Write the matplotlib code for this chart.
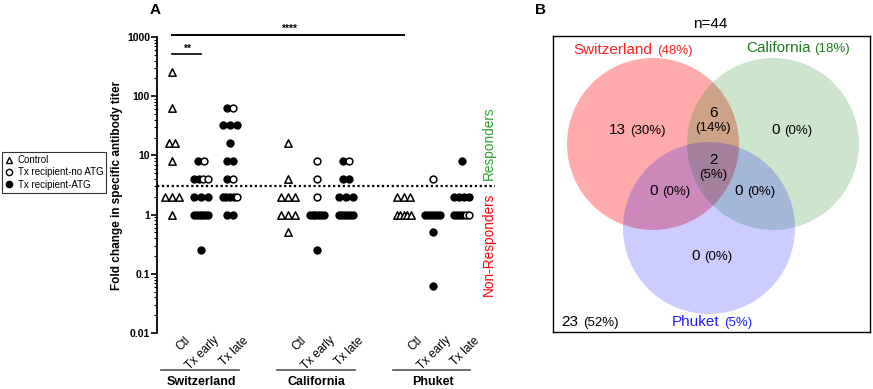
import numpy as np
import matplotlib.pyplot as plt
from matplotlib import transforms
from matplotlib.patches import Circle
from matplotlib.lines import Line2D
from matplotlib.ticker import LogLocator, NullFormatter
from matplotlib.offsetbox import TextArea, HPacker, VPacker, AnnotationBbox

plt.rcParams["font.family"] = ["Liberation Sans", "DejaVu Sans"]

# ---- panel A data: fold change in titer per column ----
col_labels = ["Ctl", "Tx early", "Tx late"] * 3
col_pos = [0, 1, 2, 4, 5, 6, 8, 9, 10]
sites = ["Switzerland", "California", "Phuket"]

ctl_sw = [256, 64, 16, 16, 8, 2, 2, 2, 1]
ctl_ca = [16, 4, 2, 2, 2, 1, 1, 1, 0.5]
ctl_ph = [2, 2, 2, 1, 1, 1, 1, 1]

atg_sw_early = [8, 4, 4, 2, 2, 2, 1, 1, 1, 1, 1, 1, 0.25]
noatg_sw_early = [8, 4, 4]
atg_sw_late = [64, 32, 32, 32, 16, 8, 8, 4, 2, 2, 2, 2, 1, 1]
noatg_sw_late = [64, 4, 2]
atg_ca_early = [1, 1, 1, 1, 1, 1, 0.25]
noatg_ca_early = [8, 4, 2]
atg_ca_late = [8, 4, 4, 2, 2, 2, 1, 1, 1, 1, 1, 1]
noatg_ca_late = [8]
atg_ph_early = [1, 1, 1, 1, 1, 1, 0.5, 0.0625]
noatg_ph_early = [4]
atg_ph_late = [8, 2, 2, 2, 2, 1, 1, 1, 1]
noatg_ph_late = [1, 1]

columns = [
    (ctl_sw, [], []), ([], noatg_sw_early, atg_sw_early), ([], noatg_sw_late, atg_sw_late),
    (ctl_ca, [], []), ([], noatg_ca_early, atg_ca_early), ([], noatg_ca_late, atg_ca_late),
    (ctl_ph, [], []), ([], noatg_ph_early, atg_ph_early), ([], noatg_ph_late, atg_ph_late),
]
threshold = 3

# ---- panel B data: Venn counts ----
n_total = 44
venn_counts = {"S": 13, "C": 0, "P": 0, "SC": 6, "SP": 0, "CP": 0, "SCP": 2, "none": 23}

fig = plt.figure(figsize=(8.73, 3.89), dpi=100)

# ================= panel A =================
ax = fig.add_axes([157 / 873, 56 / 389, 338 / 873, 296 / 389])
ax.set_yscale("log")
ax.set_ylim(0.01, 1000)
ax.set_xlim(-0.52, 11.15)

styles = {
    "atg": dict(marker="o", facecolor="black", edgecolor="black", s=24),
    "noatg": dict(marker="o", facecolor="white", edgecolor="black", s=24),
    "ctl": dict(marker="^", facecolor="white", edgecolor="black", s=28),
}
step, max_half = 0.23, 0.25
for x0, (ctl, noatg, atg) in zip(col_pos, columns):
    pts = [(v, "atg") for v in atg] + [(v, "noatg") for v in noatg] + [(v, "ctl") for v in ctl]
    for val in sorted(set(v for v, _ in pts), reverse=True):
        row = [k for v, k in pts if v == val]
        n = len(row)
        sp = step if n == 1 else min(step, 2 * max_half / (n - 1))
        offs = (np.arange(n) - (n - 1) / 2) * sp
        for off, kind in zip(offs, row):
            ax.scatter(x0 + off, val, linewidths=1.1, zorder=3, clip_on=False, **styles[kind])

ax.axhline(threshold, color="black", linestyle=(0, (1, 1.2)), linewidth=1.6, zorder=2)

for sp_name in ["top", "right", "bottom"]:
    ax.spines[sp_name].set_visible(False)
ax.spines["left"].set_linewidth(1.3)
ax.set_yticks([0.01, 0.1, 1, 10, 100, 1000], ["0.01", "0.1", "1", "10", "100", "1000"])
ax.yaxis.set_minor_locator(LogLocator(base=10, subs=np.arange(2, 10)))
ax.yaxis.set_minor_formatter(NullFormatter())
ax.tick_params(axis="y", which="major", length=4, width=1.2, labelsize=7.5, pad=1)
ax.tick_params(axis="y", which="minor", length=2, width=0.8)
for lbl in ax.get_yticklabels():
    lbl.set_fontweight("bold")
ax.set_ylabel("Fold change in specific antibody titer", fontsize=8.5, fontweight="bold", labelpad=3)

ax.set_xticks(col_pos)
ax.set_xticklabels(col_labels, rotation=45, ha="right", rotation_mode="anchor", fontsize=8.5)
ax.tick_params(axis="x", length=0, pad=1)
shift = transforms.ScaledTranslation(0.12, 0, fig.dpi_scale_trans)
for lbl in ax.get_xticklabels():
    lbl.set_transform(lbl.get_transform() + shift)

blend = transforms.blended_transform_factory(ax.transData, ax.transAxes)
for base, site in zip([0, 4, 8], sites):
    ax.add_line(Line2D([base - 0.38, base + 2.3], [-0.125, -0.125], color="#555555",
                       linewidth=1.2, transform=blend, clip_on=False))
    ax.text(base + 1, -0.165, site, transform=blend, ha="center", va="center",
            fontsize=9, fontweight="bold")

# significance bars
ax.plot([0, 1], [520, 520], color="black", linewidth=1.2, clip_on=False)
ax.text(0.5, 640, "**", ha="center", va="center", fontsize=7.5, fontweight="bold")
ax.plot([0, 8], [1100, 1100], color="black", linewidth=1.4, clip_on=False)
ax.text(4.05, 1380, "****", ha="center", va="center", fontsize=7.5, fontweight="bold")

ax.text(10.95, 16, "Responders", rotation=90, ha="center", va="center", color="#2ca02c", fontsize=9.8)
ax.text(10.95, 0.32, "Non-Responders", rotation=90, ha="center", va="center", color="#ff0000", fontsize=9.8)

handles = [
    Line2D([], [], marker="^", linestyle="none", markerfacecolor="white", markeredgecolor="black", markersize=4.8),
    Line2D([], [], marker="o", linestyle="none", markerfacecolor="white", markeredgecolor="black", markersize=4.5),
    Line2D([], [], marker="o", linestyle="none", markerfacecolor="black", markeredgecolor="black", markersize=4.5),
]
leg = fig.legend(handles, ["Control", "Tx recipient-no ATG", "Tx recipient-ATG"],
                 loc="upper left", bbox_to_anchor=(2 / 873, 1 - 152 / 389), fontsize=7,
                 frameon=True, fancybox=False, edgecolor="black", borderaxespad=0,
                 handlelength=0.8, handletextpad=0.5, borderpad=0.3, labelspacing=0.25)
leg.get_frame().set_linewidth(0.8)

fig.text(150 / 873, 1 - 10 / 389, "A", fontsize=11, fontweight="bold", ha="left", va="center")
fig.text(535 / 873, 1 - 10 / 389, "B", fontsize=11, fontweight="bold", ha="left", va="center")

# ================= panel B =================
bx = fig.add_axes([553 / 873, 57 / 389, 317 / 873, 296 / 389])
bx.set_xlim(0, 317)
bx.set_ylim(296, 0)
bx.set_xticks([])
bx.set_yticks([])
for s in bx.spines.values():
    s.set_linewidth(1.0)

r = 86
centers = {"S": (100, 108), "C": (220, 108), "P": (156, 192)}
colors = {"S": ("#ff0000", 0.33), "C": ("#008000", 0.2), "P": ("#0000ff", 0.2)}
for key in ["S", "C", "P"]:
    c, a = colors[key]
    bx.add_patch(Circle(centers[key], r, facecolor=c, alpha=a, edgecolor="none"))


def pct(n):
    return f"({round(100 * n / n_total)}%)"


def count_label(x, y, key, stacked=False):
    n = venn_counts[key]
    a = TextArea(str(n), textprops=dict(fontsize=11))
    b = TextArea(pct(n), textprops=dict(fontsize=9.5))
    box = VPacker(children=[a, b], align="center", pad=0, sep=1) if stacked else \
        HPacker(children=[a, b], align="baseline", pad=0, sep=3)
    bx.add_artist(AnnotationBbox(box, (x, y), frameon=False, box_alignment=(0.5, 0.5)))


count_label(84, 94, "S")
count_label(239, 94, "C")
count_label(159, 220, "P")
count_label(160, 84, "SC", stacked=True)
count_label(160, 131, "SCP", stacked=True)
count_label(117, 155, "SP")
count_label(202, 155, "CP")
count_label(37, 286, "none")

set_totals = {
    "S": sum(venn_counts[k] for k in ["S", "SC", "SP", "SCP"]),
    "C": sum(venn_counts[k] for k in ["C", "SC", "CP", "SCP"]),
    "P": sum(venn_counts[k] for k in ["P", "SP", "CP", "SCP"]),
}


def set_label(x, y, name, key, color):
    a = TextArea(name, textprops=dict(fontsize=11, color=color))
    b = TextArea(pct(set_totals[key]), textprops=dict(fontsize=9.5, color=color))
    box = HPacker(children=[a, b], align="baseline", pad=0, sep=3)
    bx.add_artist(AnnotationBbox(box, (x, y), frameon=False, box_alignment=(0.5, 0.5)))


set_label(80, 14, "Switzerland", "S", "#ff2020")
set_label(245, 12, "California", "C", "#1e7b1e")
set_label(159, 286, "Phuket", "P", "#2020ff")

bx.text(157, -12, f"n={n_total}", ha="center", va="center", fontsize=11, clip_on=False)

fig.savefig("out.png", dpi=100)
